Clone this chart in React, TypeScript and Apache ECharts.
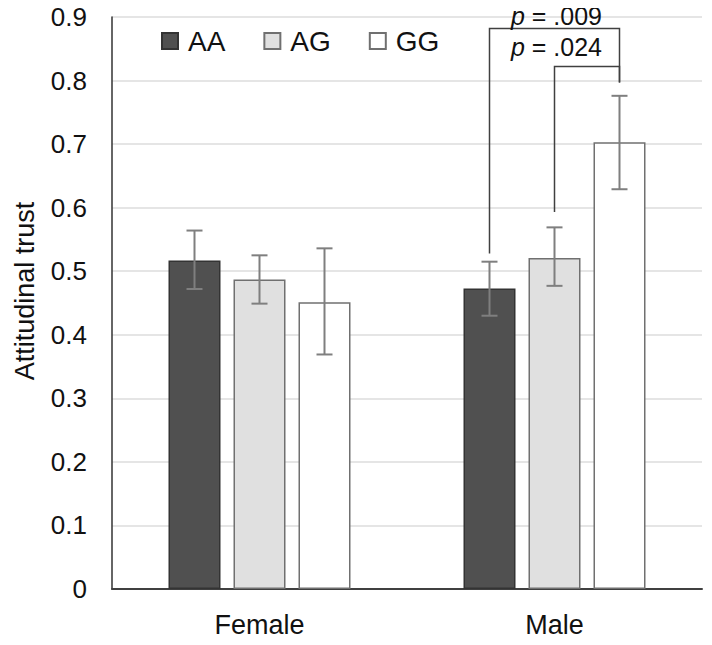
import React, { useEffect, useRef } from "react";
import * as echarts from "echarts";

const categories = ["Female", "Male"];
const genotypes = ["AA", "AG", "GG"];
const meanAA = [0.517, 0.473];
const meanAG = [0.487, 0.521];
const meanGG = [0.451, 0.703];
const lowAA = [0.472, 0.430];
const highAA = [0.564, 0.515];
const lowAG = [0.449, 0.477];
const highAG = [0.525, 0.569];
const lowGG = [0.369, 0.629];
const highGG = [0.536, 0.776];
const yTicks = [0, 0.1, 0.2, 0.3, 0.4, 0.5, 0.6, 0.7, 0.8, 0.9];
const yAxisTitle = "Attitudinal trust";

// significance brackets
const bracketCat = [1, 1];
const bracketLeft = [0, 1];
const bracketRight = [2, 2];
const bracketTop = [0.882, 0.822];
const bracketLeftBottom = [0.528, 0.593];
const bracketRightBottom = [0.797, 0.797];
const bracketLabels = [".009", ".024"];
const bracketLabelY = [0.899, 0.849];

const BAR_W = 52;
const BAR_GAP = 13;
const FONT = "'Liberation Sans', Arial, sans-serif";

export default function App() {
  const ref = useRef<HTMLDivElement>(null);
  useEffect(() => {
    if (!ref.current) return;
    const chart = echarts.init(ref.current, null, { renderer: "svg" });
    const means = [meanAA, meanAG, meanGG];
    const lows = [lowAA, lowAG, lowGG];
    const highs = [highAA, highAG, highGG];
    const fills = ["#505050", "#e0e0e0", "#ffffff"];
    const borders = ["#333333", "#707070", "#707070"];

    const barSeries = genotypes.map((g, i) => ({
      name: g,
      type: "bar",
      data: means[i],
      barWidth: BAR_W,
      barGap: `${(BAR_GAP / BAR_W) * 100}%`,
      itemStyle: { color: fills[i], borderColor: borders[i], borderWidth: 1.5 },
      z: 2,
    }));

    const errData: number[][] = [];
    genotypes.forEach((_, i) => {
      categories.forEach((_, c) => {
        errData.push([c, lows[i][c], highs[i][c], i]);
      });
    });

    const offsetOf = (bar: number) => (bar - 1) * (BAR_W + BAR_GAP);

    const errSeries = {
      type: "custom",
      data: errData,
      z: 5,
      silent: true,
      renderItem: (params: any, api: any) => {
        const c = api.value(0);
        const bar = api.value(3);
        const lo = api.coord([c, api.value(1)]);
        const hi = api.coord([c, api.value(2)]);
        const x = lo[0] + offsetOf(bar);
        const cap = 8;
        const style = { stroke: "#7f7f7f", lineWidth: 2 };
        return {
          type: "group",
          children: [
            { type: "line", shape: { x1: x, y1: lo[1], x2: x, y2: hi[1] }, style },
            { type: "line", shape: { x1: x - cap, y1: lo[1], x2: x + cap, y2: lo[1] }, style },
            { type: "line", shape: { x1: x - cap, y1: hi[1], x2: x + cap, y2: hi[1] }, style },
          ],
        };
      },
    };

    const brData = bracketCat.map((c, k) => [
      c,
      bracketLeft[k],
      bracketRight[k],
      bracketTop[k],
      bracketLeftBottom[k],
      bracketRightBottom[k],
      bracketLabelY[k],
      k,
    ]);

    const bracketSeries = {
      type: "custom",
      data: brData,
      z: 6,
      clip: false,
      silent: true,
      renderItem: (params: any, api: any) => {
        const c = api.value(0);
        const lb = api.value(1);
        const rb = api.value(2);
        const top = api.coord([c, api.value(3)]);
        const lBot = api.coord([c, api.value(4)]);
        const rBot = api.coord([c, api.value(5)]);
        const lab = api.coord([c, api.value(6)]);
        const k = api.value(7);
        const xl = top[0] + offsetOf(lb);
        const xr = top[0] + offsetOf(rb);
        const style = { stroke: "#404040", lineWidth: 1.5, fill: "none" };
        return {
          type: "group",
          children: [
            {
              type: "polyline",
              shape: {
                points: [
                  [xl, lBot[1]],
                  [xl, top[1]],
                  [xr, top[1]],
                  [xr, rBot[1]],
                ],
              },
              style,
            },
            {
              type: "text",
              x: top[0] + 2,
              y: lab[1] - 2,
              style: {
                text: `{i|p} = ${bracketLabels[k]}`,
                align: "center",
                verticalAlign: "middle",
                font: `25px ${FONT}`,
                fill: "#111",
                rich: {
                  i: { fontStyle: "italic", fontSize: 25, fontFamily: FONT, fill: "#111" },
                },
              },
            },
          ],
        };
      },
    };

    chart.setOption({
      animation: false,
      textStyle: { fontFamily: FONT },
      grid: { left: 112, right: 10, top: 17, bottom: 56, containLabel: false },
      legend: {
        data: genotypes,
        left: 156,
        top: 22,
        icon: "rect",
        itemWidth: 16,
        itemHeight: 16,
        itemGap: 38,
        textStyle: { fontSize: 28, color: "#111", fontFamily: FONT, padding: [0, 0, 0, 5] },
        selectedMode: false,
      },
      graphic: [
        {
          type: "text",
          x: 25,
          y: 291,
          rotation: Math.PI / 2,
          style: {
            text: yAxisTitle,
            align: "center",
            verticalAlign: "middle",
            font: `27px ${FONT}`,
            fill: "#111",
          },
        },
      ],
      xAxis: {
        type: "category",
        data: categories,
        axisLine: { lineStyle: { color: "#404040", width: 2 } },
        axisTick: { show: false },
        axisLabel: { fontSize: 27, color: "#111", margin: 22, fontFamily: FONT },
      },
      yAxis: {
        type: "value",
        min: 0,
        max: 0.9,
        interval: 0.1,
        axisLine: { show: true, lineStyle: { color: "#333", width: 1.5 } },
        axisTick: { show: false },
        axisLabel: {
          fontSize: 26,
          color: "#111",
          margin: 25,
          fontFamily: FONT,
          formatter: (v: number) => {
            const t = yTicks.find((y) => Math.abs(y - v) < 1e-6);
            return t === 0 ? "0" : (t ?? v).toFixed(1);
          },
        },
        splitLine: { lineStyle: { color: "#dcdcdc", width: 1.5 } },
      },
      series: [...barSeries, errSeries, bracketSeries],
    });
    return () => chart.dispose();
  }, []);
  return <div ref={ref} style={{ width: 712, height: 645, marginTop: -8, marginLeft: -8 }} />;
}
